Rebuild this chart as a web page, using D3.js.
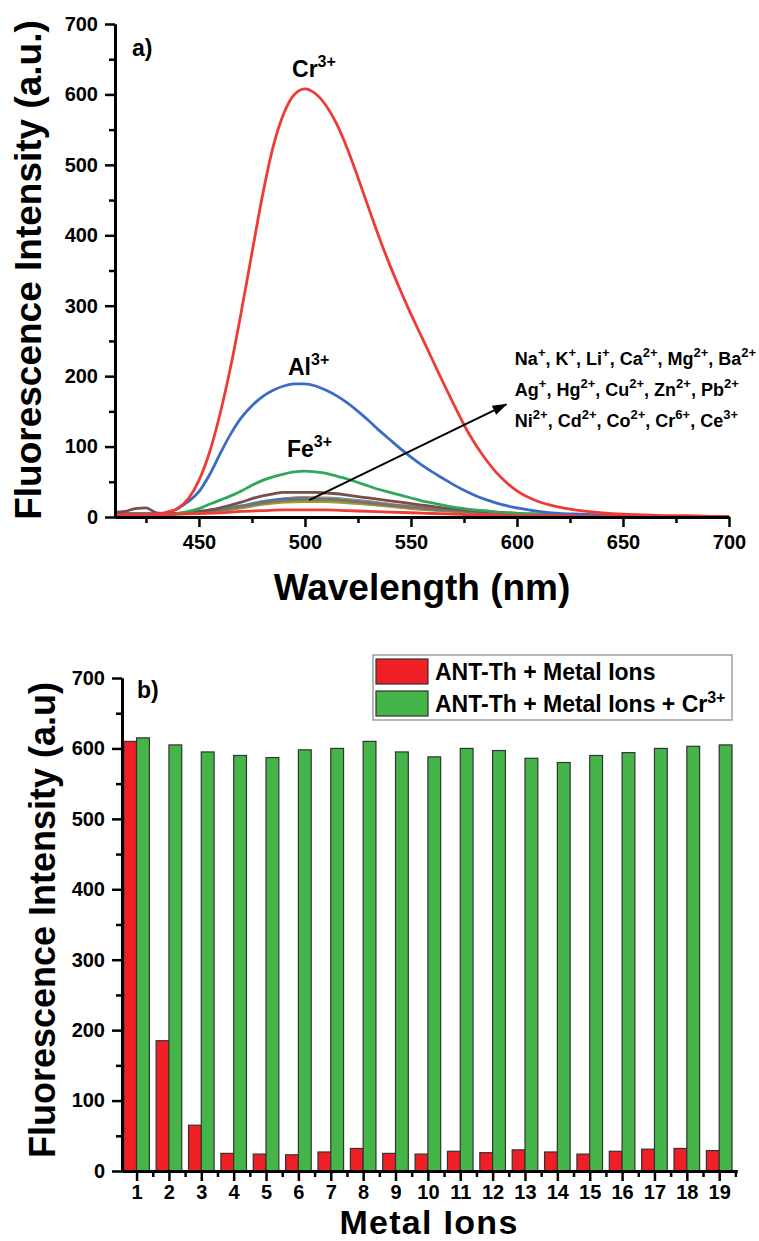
<!DOCTYPE html>
<html>
<head>
<meta charset="utf-8">
<script src="https://cdn.jsdelivr.net/npm/d3@7"></script>
<style>
  body { margin: 0; background: #fff; }
  svg { display: block; font-family: "Liberation Sans", Arial, sans-serif; font-weight: bold; }
</style>
</head>
<body>
<div id="chart"></div>
<script>
// ---------- data, panel a (emission spectra) ----------
var wlFine = [410,415,420,425,430,435,440,445,450,455,460,465,470,475,480,485,490,495,500,505,
  510,515,520,525,530,535,540,545,550,555,560,565,570,575,580,585,590,595,600,
  610,620,630,640,650,660,670,680,690,700];
var crSpec = [3,3,3,3,4, 7,12,26,52,92, 147,214,292,375,457, 526,573,600,608,601,
  584,558,523,482,439, 397,358,322,288,256, 224,192,161,131,105, 83,64,49,37,
  22,14,9,6,4,3,2,2,1,1];
var alSpec = [3,3,3,3,4, 6,12,22,36,60, 90,118,141,158,171, 180,186,189,189,186,
  180,172,162,150,137, 123,110,97,85,74, 64,55,46,38,31, 25,20,16,13,
  8,5,4,3,2,2,1,1,1,1];
var feSpec = [2,2,2,2,3, 3,5,8,12,18, 24,30,37,45,52, 57,61,64,65,64,
  62,58,54,49,44, 39,35,31,27,23, 20,17,14,12,10, 9,7,6,5,
  4,3,2,2,1,1,1,1,1,1];
var brownSpec = [7,8,12,13,6, 5,5,6,8,10, 13,17,21,26,30, 33,35,35,35,35,
  34,33,31,29,27, 25,23,21,19,17, 15,13,12,10,9, 8,7,6,5,
  4,3,2,2,1,1,1,1,1,1];

var wlCoarse = [410,420,430,440,450,460,470,480,490,500,510,520,530,540,550,
  560,570,580,590,600,610,620,630,640,650,660,670,680,690,700];
var cyanSpec   = [4,4,4,5,7,11,16,22,26,28,27,25,22,18,15,12,9,7,5,4,3,2,2,1,1,1,1,1,1,1];
var orangeSpec = [4,4,4,5,7,10,15,21,25,27,26,24,21,18,15,12,9,7,5,4,3,2,2,1,1,1,1,1,1,1];
var oliveSpec  = [4,4,4,5,6,9,13,18,21,22,22,20,18,15,12,10,8,6,5,4,3,2,2,1,1,1,1,1,1,1];
var lgreenSpec = [3,3,3,4,6,9,14,19,23,24,23,21,19,16,13,10,8,6,5,4,3,2,2,1,1,1,1,1,1,1];
var navySpec   = [4,4,4,5,7,10,15,21,25,26,25,23,20,17,14,11,9,7,5,4,3,2,2,1,1,1,1,1,1,1];
var greySpec   = [5,5,5,5,7,10,15,20,24,25,25,23,20,17,14,11,9,7,5,4,3,2,2,1,1,1,1,1,1,1];
var lowRedSpec = [3,3,3,4,5,6,8,9,10,10,10,9,8,7,6,5,4,3,3,2,2,2,1,1,1,1,1,1,1,1];

var wlTicks = [450,500,550,600,650,700];
var wlMinor = [425,475,525,575,625,675];
var intTicks = [0,100,200,300,400,500,600,700];
var intMinor = [50,150,250,350,450,550,650];

// ---------- data, panel b (bars) ----------
var ionIndex = [1,2,3,4,5,6,7,8,9,10,11,12,13,14,15,16,17,18,19];
var withIons = [610,185,65,25,24,23,27,32,25,24,28,26,30,27,24,28,31,32,29];
var withIonsCr = [615,605,595,590,587,598,600,610,595,588,600,597,586,580,590,594,600,603,605];
var ionMinor = [1.5,2.5,3.5,4.5,5.5,6.5,7.5,8.5,9.5,10.5,11.5,12.5,13.5,14.5,15.5,16.5,17.5,18.5,19.5];

var W = 759, H = 1241;
var svg = d3.select("#chart").append("svg").attr("width", W).attr("height", H);

// text with superscripts: parts = [[text, sup], ...]
function rich(t, parts, size, supSize, shift) {
  t.attr("font-size", size);
  var up = false;
  parts.forEach(function(p) {
    var s = t.append("tspan").text(p[0]);
    if (up) { s.attr("dy", shift); up = false; }
    if (p[1]) {
      t.append("tspan").attr("dy", -shift).attr("font-size", supSize).text(p[1]);
      up = true;
    }
  });
  return t;
}

function styleAxis(g) {
  g.select(".domain").attr("stroke", "#000").attr("stroke-width", 3);
  g.selectAll(".tick line").attr("stroke", "#000").attr("stroke-width", 2.5);
  g.selectAll(".tick text").attr("font-size", 20).attr("font-weight", "bold")
    .attr("font-family", "Liberation Sans, Arial, sans-serif").attr("fill", "#000");
}
function minorAxis(g) {
  styleAxis(g);
  g.selectAll(".tick text").remove();
}

// ================= panel a =================
var xa = d3.scaleLinear().domain([410.4, 700]).range([115, 729]);
var ya = d3.scaleLinear().domain([0, 700]).range([517, 24]);

var curves = [
  {x: wlCoarse, y: cyanSpec, c: "#45a7c9"},
  {x: wlCoarse, y: orangeSpec, c: "#e8892c"},
  {x: wlCoarse, y: navySpec, c: "#4a5fb0"},
  {x: wlCoarse, y: lgreenSpec, c: "#6cbd45"},
  {x: wlCoarse, y: oliveSpec, c: "#9c9a2c"},
  {x: wlCoarse, y: greySpec, c: "#747474"},
  {x: wlFine, y: brownSpec, c: "#7b4c4c"},
  {x: wlFine, y: feSpec, c: "#2fa85a"},
  {x: wlFine, y: alSpec, c: "#3b6cc5"},
  {x: wlFine, y: crSpec, c: "#ef3b37"},
  {x: wlCoarse, y: lowRedSpec, c: "#ef3b37"}
];

var line = d3.line().curve(d3.curveMonotoneX);
var ga = svg.append("g");
curves.forEach(function(s) {
  var pts = s.x.map(function(w, i) { return [xa(Math.max(w, 410.4)), ya(s.y[i])]; });
  ga.append("path").attr("d", line(pts)).attr("fill", "none")
    .attr("stroke", s.c).attr("stroke-width", 2.8).attr("stroke-linejoin", "round");
});

// axes a
svg.append("g").attr("transform", "translate(0,517)")
  .call(d3.axisBottom(xa).tickValues(wlTicks).tickSize(10).tickPadding(8).tickSizeOuter(0))
  .call(styleAxis);
svg.append("g").attr("transform", "translate(0,517)")
  .call(d3.axisBottom(xa).tickValues(wlMinor).tickSize(6).tickSizeOuter(0))
  .call(minorAxis);
svg.append("g").attr("transform", "translate(115,0)")
  .call(d3.axisLeft(ya).tickValues(intTicks).tickSize(10).tickPadding(7).tickSizeOuter(0))
  .call(styleAxis);
svg.append("g").attr("transform", "translate(115,0)")
  .call(d3.axisLeft(ya).tickValues(intMinor).tickSize(6).tickSizeOuter(0))
  .call(minorAxis);

svg.append("text").attr("x", 422).attr("y", 600).attr("text-anchor", "middle")
  .attr("font-size", 37).text("Wavelength (nm)");
svg.append("text").attr("transform", "translate(41,270) rotate(-90)").attr("text-anchor", "middle")
  .attr("font-size", 37).text("Fluorescence Intensity (a.u.)");
svg.append("text").attr("x", 132).attr("y", 56).attr("font-size", 23).text("a)");

rich(svg.append("text").attr("x", xa(493.9)).attr("y", ya(625)), [["Cr", "3+"]], 23, 16, 10);
rich(svg.append("text").attr("x", xa(492)).attr("y", ya(201)), [["Al", "3+"]], 23, 16, 10);
rich(svg.append("text").attr("x", xa(491.5)).attr("y", ya(85)), [["Fe", "3+"]], 23, 16, 10);

var noteLines = [
  [["Na", "+"], [", K", "+"], [", Li", "+"], [", Ca", "2+"], [", Mg", "2+"], [", Ba", "2+"]],
  [["Ag", "+"], [", Hg", "2+"], [", Cu", "2+"], [", Zn", "2+"], [", Pb", "2+"]],
  [["Ni", "2+"], [", Cd", "2+"], [", Co", "2+"], [", Cr", "6+"], [", Ce", "3+"]]
];
var noteY = [216, 172, 128];
noteLines.forEach(function(parts, i) {
  rich(svg.append("text").attr("x", xa(599)).attr("y", ya(noteY[i])), parts, 18, 13, 8);
});

svg.append("defs").append("marker").attr("id", "arr").attr("viewBox", "0 0 12 8")
  .attr("refX", 11).attr("refY", 4).attr("markerWidth", 9).attr("markerHeight", 5)
  .attr("markerUnits", "strokeWidth").attr("orient", "auto")
  .append("path").attr("d", "M0,0 L12,4 L0,8 z").attr("fill", "#000");
svg.append("line").attr("x1", xa(502)).attr("y1", ya(24)).attr("x2", xa(595)).attr("y2", ya(160))
  .attr("stroke", "#000").attr("stroke-width", 2).attr("marker-end", "url(#arr)");

// ================= panel b =================
var xb = d3.scaleLinear().domain([0.55, 19.55]).range([122, 737]);
var yb = d3.scaleLinear().domain([0, 700]).range([1171, 678]);
var bw = 12.8;

var gb = svg.append("g");
gb.selectAll("rect.r").data(ionIndex).enter().append("rect")
  .attr("x", function(d) { return xb(d) - bw; })
  .attr("y", function(d, i) { return yb(withIons[i]); })
  .attr("width", bw)
  .attr("height", function(d, i) { return yb(0) - yb(withIons[i]); })
  .attr("fill", "#ee1f25").attr("stroke", "#333").attr("stroke-width", 1.2);
gb.selectAll("rect.g").data(ionIndex).enter().append("rect")
  .attr("x", function(d) { return xb(d); })
  .attr("y", function(d, i) { return yb(withIonsCr[i]); })
  .attr("width", bw)
  .attr("height", function(d, i) { return yb(0) - yb(withIonsCr[i]); })
  .attr("fill", "#46b549").attr("stroke", "#333").attr("stroke-width", 1.2);

svg.append("g").attr("transform", "translate(0,1171)")
  .call(d3.axisBottom(xb).tickValues(ionIndex).tickFormat(d3.format("d")).tickSize(10).tickPadding(4).tickSizeOuter(0))
  .call(styleAxis);
svg.append("g").attr("transform", "translate(0,1171)")
  .call(d3.axisBottom(xb).tickValues(ionMinor).tickSize(6).tickSizeOuter(0))
  .call(minorAxis);
svg.append("g").attr("transform", "translate(122,0)")
  .call(d3.axisLeft(yb).tickValues(intTicks).tickSize(10).tickPadding(7).tickSizeOuter(0))
  .call(styleAxis);
svg.append("g").attr("transform", "translate(122,0)")
  .call(d3.axisLeft(yb).tickValues(intMinor).tickSize(6).tickSizeOuter(0))
  .call(minorAxis);

svg.append("text").attr("x", 429).attr("y", 1233.5).attr("text-anchor", "middle")
  .attr("font-size", 34).attr("letter-spacing", 1.3).text("Metal Ions");
svg.append("text").attr("transform", "translate(55,920) rotate(-90)").attr("text-anchor", "middle")
  .attr("font-size", 36).text("Fluorescence Intensity (a.u)");
svg.append("text").attr("x", 137).attr("y", 698).attr("font-size", 23).text("b)");

// legend
var lg = svg.append("g");
lg.append("rect").attr("x", 373).attr("y", 655).attr("width", 359).attr("height", 65)
  .attr("fill", "#fff").attr("stroke", "#888").attr("stroke-width", 1.2);
lg.append("rect").attr("x", 376).attr("y", 659).attr("width", 52).attr("height", 25)
  .attr("fill", "#ee1f25").attr("stroke", "#333").attr("stroke-width", 1.2);
lg.append("rect").attr("x", 376).attr("y", 691).attr("width", 52).attr("height", 25)
  .attr("fill", "#46b549").attr("stroke", "#333").attr("stroke-width", 1.2);
rich(lg.append("text").attr("x", 435).attr("y", 680), [["ANT-Th + Metal Ions", null]], 23, 16, 9);
rich(lg.append("text").attr("x", 435).attr("y", 712), [["ANT-Th + Metal Ions + Cr", "3+"]], 23, 16, 9);
</script>
</body>
</html>
